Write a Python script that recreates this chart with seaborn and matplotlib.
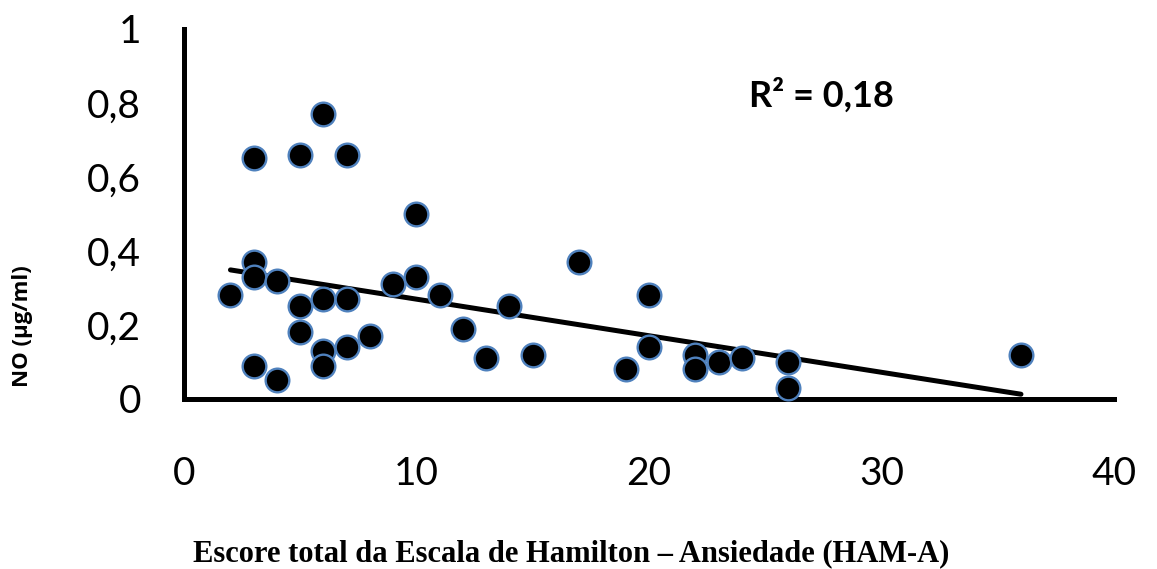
import numpy as np
import pandas as pd
import matplotlib
matplotlib.use("Agg")
import matplotlib.pyplot as plt
import seaborn as sns

# HAM-A total score vs. nitric oxide concentration
ham_a = [2, 3, 3, 3, 3, 4, 4, 5, 5, 5, 6, 6, 6, 6, 7, 7, 7, 8, 9, 10, 10,
         11, 12, 13, 14, 15, 17, 19, 20, 20, 22, 22, 23, 24, 26, 26, 36]
no_ug_ml = [0.28, 0.65, 0.37, 0.33, 0.09, 0.32, 0.05, 0.66, 0.25, 0.18,
            0.77, 0.27, 0.13, 0.09, 0.66, 0.27, 0.14, 0.17, 0.31, 0.50, 0.33,
            0.28, 0.19, 0.11, 0.25, 0.12, 0.37, 0.08, 0.28, 0.14, 0.12, 0.08,
            0.10, 0.11, 0.10, 0.03, 0.12]

x_ticks = [0, 10, 20, 30, 40]
x_tick_labels = ["0", "10", "20", "30", "40"]
y_ticks = [0, 0.2, 0.4, 0.6, 0.8, 1.0]
y_tick_labels = ["0", "0,2", "0,4", "0,6", "0,8", "1"]
r2_label = "R² = 0,18"

df = pd.DataFrame({"ham_a": ham_a, "no": no_ug_ml})

sns.set_style("white")
plt.rcParams["font.family"] = ["Lato", "DejaVu Sans"]
plt.rcParams["text.color"] = "black"
plt.rcParams["axes.labelcolor"] = "black"

fig = plt.figure(figsize=(11.57, 5.69), dpi=100)
ax = fig.add_axes([0.159, 0.2988, 0.8038, 0.6503])

# linear trend line
sns.regplot(data=df, x="ham_a", y="no", ax=ax, scatter=False, ci=None,
            truncate=True, color="black", line_kws={"linewidth": 3.6, "zorder": 2})

sns.scatterplot(data=df, x="ham_a", y="no", ax=ax, s=290, color="black",
                edgecolor="#4f81bd", linewidth=1.7, zorder=3, clip_on=False,
                legend=False)

ax.set_xlim(0, 40)
ax.set_ylim(0, 1)
ax.set_xticks(x_ticks)
ax.set_xticklabels(x_tick_labels)
ax.set_yticks(y_ticks)
ax.set_yticklabels(y_tick_labels)

for side in ("top", "right"):
    ax.spines[side].set_visible(False)
for side in ("left", "bottom"):
    ax.spines[side].set_linewidth(3.6)
    ax.spines[side].set_color("black")
    ax.spines[side].set_capstyle("projecting")

ax.tick_params(axis="both", which="major", direction="out", length=7,
               width=3.6, color="black", labelsize=28, labelcolor="black")
ax.tick_params(axis="x", pad=34)
ax.tick_params(axis="y", pad=24)

ax.set_xlabel("Escore total da Escala de Hamilton – Ansiedade (HAM-A)",
              fontfamily="Liberation Serif", fontweight="bold", fontsize=22,
              color="black")
ax.xaxis.set_label_coords(0.416, -0.38)
ax.set_ylabel("NO (µg/ml)", fontfamily="Open Sans", fontweight="bold",
              fontsize=16, color="black")
ax.yaxis.set_label_coords(-0.162, 0.197)

ax.text(0.608, 0.82, r2_label, transform=ax.transAxes, fontsize=26,
        fontweight="bold", ha="left", va="center", color="black")

fig.savefig("out.png", dpi=100)
